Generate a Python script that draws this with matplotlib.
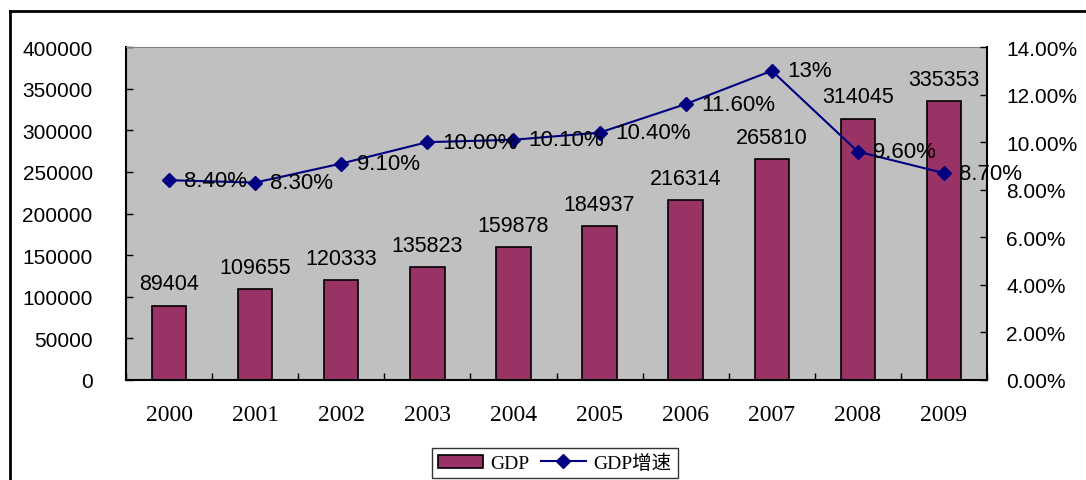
import matplotlib.pyplot as plt
import numpy as np
from matplotlib.lines import Line2D
from matplotlib.ticker import FuncFormatter

years = ['2000', '2001', '2002', '2003', '2004', '2005', '2006', '2007', '2008', '2009']
gdp = [89404, 109655, 120333, 135823, 159878, 184937, 216314, 265810, 314045, 335353]
rate = [8.4, 8.3, 9.1, 10.0, 10.1, 10.4, 11.6, 13.0, 9.6, 8.7]
rate_labels = ['8.40%', '8.30%', '9.10%', '10.00%', '10.10%', '10.40%', '11.60%', '13%', '9.60%', '8.70%']

sans = ['Liberation Sans', 'DejaVu Sans']
serif = ['Liberation Serif', 'Noto Sans CJK SC']

fig = plt.figure(figsize=(10.86, 4.81), dpi=100)
ax = fig.add_axes([126/1086, 1 - 381/481, 861/1086, 333/481])
ax.set_facecolor('#c0c0c0')

x = np.arange(len(years))
bars = ax.bar(x, gdp, width=0.4, color='#993366', edgecolor='black', linewidth=1.2, zorder=2)
for xi, v in zip(x, gdp):
    ax.annotate(str(v), (xi, v), xytext=(0, 8), textcoords='offset points',
                ha='center', va='bottom', fontsize=15.5, family=sans)

ax.set_xlim(-0.5, 9.5)
ax.set_ylim(0, 400000)
ax.set_yticks(np.arange(0, 400001, 50000))
ax.set_xticks(x)
ax.set_xticklabels(years, family=serif, fontsize=17)
ax.set_xticks(np.arange(-0.5, 10, 1), minor=True)
ax.tick_params(axis='x', which='major', length=0, pad=17)
ax.tick_params(axis='x', which='minor', direction='in', length=5, width=1)
ax.tick_params(axis='y', direction='in', length=5, width=1, pad=24, labelsize=15)
for lab in ax.get_yticklabels():
    lab.set_family(sans)
for s in ['left', 'bottom']:
    ax.spines[s].set_color('black')
    ax.spines[s].set_linewidth(1.5)
ax.spines['top'].set_color('#808080')
ax.spines['right'].set_visible(False)

ax2 = ax.twinx()
ax2.plot(x, rate, color='#000080', marker='D', markersize=7, linewidth=1.5, zorder=3)
for xi, v, t in zip(x, rate, rate_labels):
    ax2.annotate(t, (xi, v), xytext=(11, 0), textcoords='offset points',
                 ha='left', va='center', fontsize=16, family=sans)
ax2.set_ylim(0, 14)
ax2.set_yticks(np.arange(0, 14.01, 2))
ax2.yaxis.set_major_formatter(FuncFormatter(lambda v, p: '%.2f%%' % v))
ax2.tick_params(axis='y', direction='in', length=5, width=1, pad=14, labelsize=15)
for lab in ax2.get_yticklabels():
    lab.set_family(sans)
ax2.spines['right'].set_color('black')
ax2.spines['right'].set_linewidth(1.5)
for s in ['top', 'left', 'bottom']:
    ax2.spines[s].set_visible(False)

handles = [plt.Rectangle((0, 0), 1, 1, facecolor='#993366', edgecolor='black', linewidth=1.2),
           Line2D([], [], color='#000080', marker='D', markersize=7, linewidth=1.5)]
leg = fig.legend(handles, ['GDP', 'GDP增速'], loc='upper left',
                 bbox_to_anchor=(432/1086, 1 - 449/481), ncol=2, frameon=True,
                 fancybox=False, edgecolor='black', prop={'family': serif, 'size': 14},
                 handlelength=2.3, borderpad=0.3, columnspacing=0.6, handletextpad=0.4,
                 borderaxespad=0)
leg.get_frame().set_linewidth(1)

# outer chart frame (cut at right and bottom)
fig.add_artist(Line2D([10/1086, 10/1086], [0, 1 - 12/481], color='black', linewidth=2, transform=fig.transFigure))
fig.add_artist(Line2D([10/1086, 1], [1 - 12/481, 1 - 12/481], color='black', linewidth=2, transform=fig.transFigure))

fig.savefig('out.png', dpi=100)
